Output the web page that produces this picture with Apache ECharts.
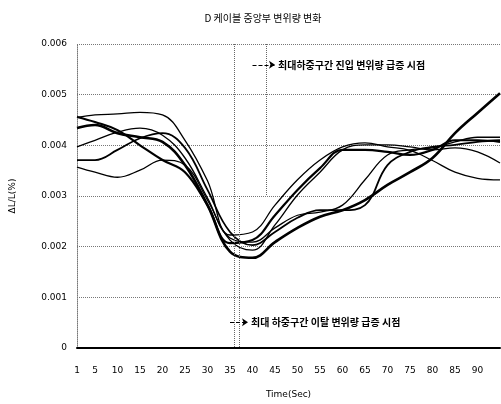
<!DOCTYPE html>
<html>
<head>
<meta charset="utf-8">
<script src="https://cdn.jsdelivr.net/npm/echarts@6/dist/echarts.min.js"></script>
<style>html,body{margin:0;padding:0;background:#fff;}#c{width:501px;height:404px;}</style>
</head>
<body>
<div id="c"></div>
<script>
// categories (time steps)
const categories = [];
for (let i = 1; i <= 95; i++) categories.push(String(i));
// sample positions along the time axis
const samplePos = [1,5,10,15,20,25,30,35,40,45,50,55,60,65,70,75,80,85,90,95];
const yTicks = [0, 0.001, 0.002, 0.003, 0.004, 0.005, 0.006];

const s1 = [0.00455,0.00460,0.00462,0.00465,0.00460,0.00410,0.00330,0.00223,0.00229,0.00282,0.00332,0.00371,0.00397,0.00405,0.00397,0.00390,0.00370,0.00347,0.00335,0.00332];
const s2 = [0.00434,0.00440,0.00424,0.00416,0.00407,0.00361,0.00282,0.00190,0.00178,0.00209,0.00237,0.00259,0.00272,0.00292,0.00322,0.00347,0.00375,0.00424,0.00464,0.00503];
const s3 = [0.00371,0.00371,0.00391,0.00414,0.00424,0.00395,0.00312,0.00229,0.00203,0.00229,0.00257,0.00272,0.00272,0.00282,0.00361,0.00387,0.00397,0.00401,0.00407,0.00410];
const s4 = [0.00357,0.00347,0.00337,0.00351,0.00371,0.00361,0.00292,0.00213,0.00193,0.00243,0.00302,0.00347,0.00391,0.00401,0.00401,0.00397,0.00391,0.00395,0.00387,0.00365];
const s5 = [0.00397,0.00410,0.00426,0.00434,0.00420,0.00375,0.00296,0.00217,0.00209,0.00237,0.00262,0.00268,0.00282,0.00332,0.00381,0.00391,0.00395,0.00407,0.00416,0.00416];
const s6 = [0.00456,0.00446,0.00430,0.00400,0.00371,0.00347,0.00282,0.00207,0.00213,0.00262,0.00312,0.00355,0.00391,0.00391,0.00387,0.00381,0.00391,0.00410,0.00410,0.00407];

const seriesList = [
  {v: s1, w: 1.3},
  {v: s2, w: 2.6},
  {v: s3, w: 1.8},
  {v: s4, w: 1.3},
  {v: s5, w: 1.3},
  {v: s6, w: 2.2}
];

const titleText = 'D 케이블 중앙부 변위량 변화';
const noteTop = '최대하중구간 진입 변위량 급증 시점';
const noteBottom = '최대 하중구간 이탈 변위량 급증 시점';

const chart = echarts.init(document.getElementById('c'));
const series = seriesList.map((s, idx) => ({
  type: 'line',
  smooth: 0.4,
  symbol: 'none',
  lineStyle: {color: '#000', width: s.w},
  data: samplePos.map((p, i) => [String(p), s.v[i]]),
  silent: true,
  z: 3
}));
// annotation lines
series.push({
  type: 'line', data: [], silent: true,
  markLine: {
    symbol: 'none', silent: true, animation: false,
    label: {show: false},
    lineStyle: {color: '#666', type: 'dotted', width: 1},
    data: [
      [{coord: ['36', 0.006]}, {coord: ['36', 0]}],
      [{coord: ['43', 0.006]}, {coord: ['43', 0.003]}],
      [{coord: ['37', 0.003]}, {coord: ['37', 0]}]
    ]
  }
});
series.push({
  type: 'line', data: [], silent: true,
  markLine: {
    symbol: ['none', 'arrow'], symbolSize: 6, silent: true, animation: false,
    lineStyle: {color: '#000', type: 'dashed', width: 1},
    label: {show: true, position: 'end', color: '#000', fontSize: 10, fontWeight: 'bold',
            fontFamily: 'Noto Sans CJK KR', distance: 3},
    data: [
      [{coord: ['40', 0.00559], label: {formatter: noteTop}}, {coord: ['45', 0.00559]}],
      [{coord: ['35', 0.00051], label: {formatter: noteBottom}}, {coord: ['39', 0.00051]}]
    ]
  }
});

chart.setOption({
  animation: false,
  backgroundColor: '#fff',
  title: {
    text: titleText, left: 258, top: 8, textAlign: 'center',
    textStyle: {fontSize: 10, fontWeight: 'normal', color: '#000', fontFamily: 'Noto Sans CJK KR'}
  },
  grid: {left: 77, right: 1, top: 44, bottom: 56, containLabel: false},
  xAxis: {
    type: 'category',
    data: categories,
    boundaryGap: false,
    name: 'Time(Sec)',
    nameLocation: 'middle',
    nameGap: 42,
    nameTextStyle: {fontSize: 9, color: '#000', fontFamily: 'DejaVu Sans'},
    axisLine: {lineStyle: {color: '#000', width: 2}},
    axisTick: {show: false},
    axisLabel: {
      color: '#000', fontSize: 9, margin: 18, fontFamily: 'DejaVu Sans',
      interval: (i, v) => v === '1' || (+v % 5 === 0 && +v < 95)
    },
    splitLine: {show: false}
  },
  yAxis: {
    type: 'value',
    min: 0, max: 0.006, interval: 0.001,
    name: 'ΔL/L(%)',
    nameLocation: 'middle',
    nameGap: 60,
    nameRotate: 90,
    nameTextStyle: {fontSize: 9, color: '#000', fontFamily: 'DejaVu Sans'},
    axisLine: {show: true, lineStyle: {color: '#777', type: 'dotted'}},
    axisTick: {show: false},
    axisLabel: {
      color: '#000', fontSize: 9, margin: 10, fontFamily: 'DejaVu Sans',
      formatter: v => v === 0 ? '0' : v.toFixed(3)
    },
    splitLine: {lineStyle: {color: '#777', type: 'dotted', width: 1}}
  },
  series: series
});
</script>
</body>
</html>
